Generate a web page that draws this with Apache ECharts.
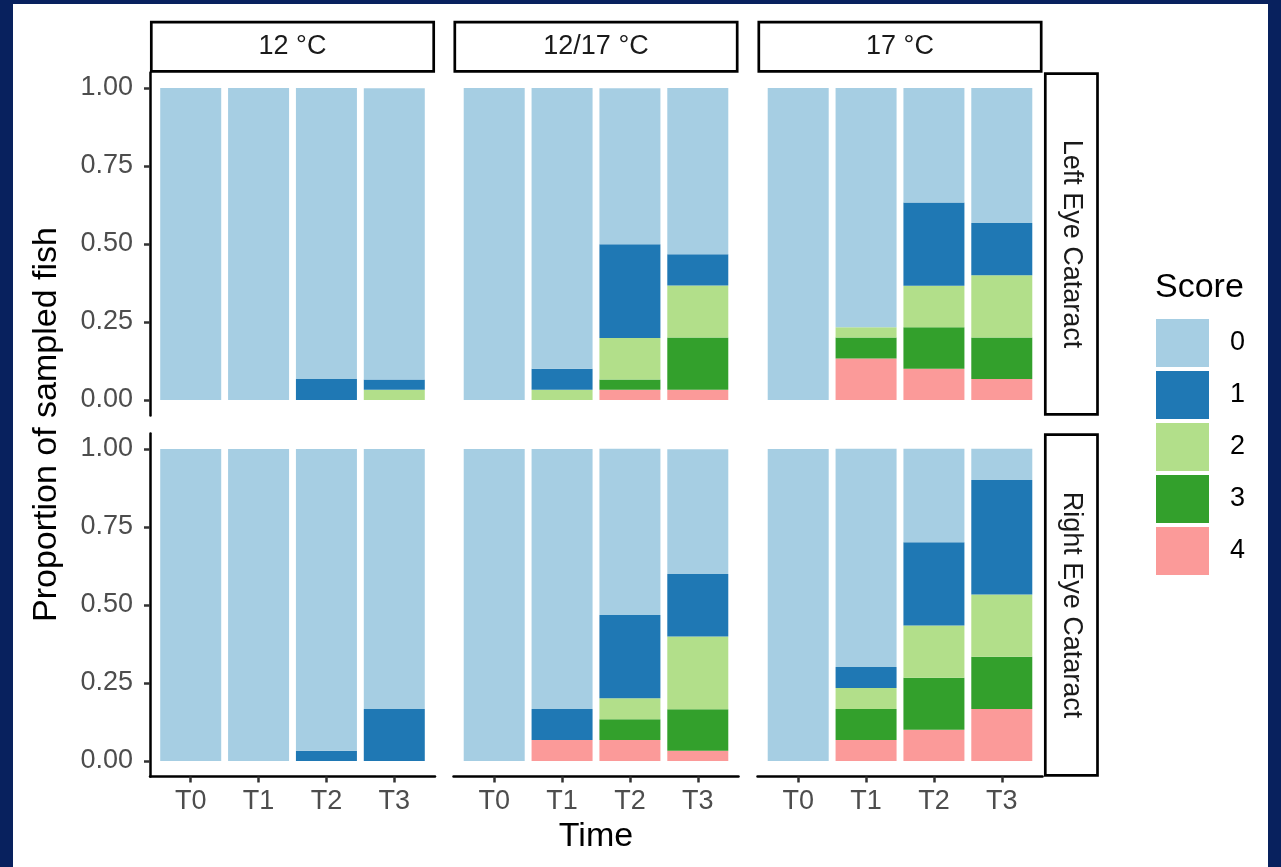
<!DOCTYPE html>
<html>
<head>
<meta charset="utf-8">
<script src="https://cdn.jsdelivr.net/npm/echarts@6/dist/echarts.min.js"></script>
<style>
  html, body {margin: 0; padding: 0; background: #08215e;}
  #paper {position: absolute; left: 13px; top: 4px; width: 1255px; height: 863px; background: #fff;}
  #chart {position: absolute; left: 0; top: 0; width: 1281px; height: 867px;}
</style>
</head>
<body>
<div id="paper"></div>
<div id="chart"></div>
<script>
const times = ['T0', 'T1', 'T2', 'T3'];
const scores = ['0', '1', '2', '3', '4'];
const temps = ['12 °C', '12/17 °C', '17 °C'];
const eyes = ['Left Eye Cataract', 'Right Eye Cataract'];
const colors = ['#a6cee3', '#1f78b4', '#b2df8a', '#33a02c', '#fb9a99'];

// proportion of fish per score (rows: score 0..4, columns: T0..T3)
const left12 = [[1, 1, 0.933, 0.933], [0, 0, 0.067, 0.033], [0, 0, 0, 0.033], [0, 0, 0, 0], [0, 0, 0, 0]];
const left1217 = [[1, 0.9, 0.5, 0.533], [0, 0.067, 0.3, 0.1], [0, 0.033, 0.133, 0.167], [0, 0, 0.033, 0.167], [0, 0, 0.033, 0.033]];
const left17 = [[1, 0.767, 0.367, 0.433], [0, 0, 0.267, 0.167], [0, 0.033, 0.133, 0.2], [0, 0.067, 0.133, 0.133], [0, 0.133, 0.1, 0.067]];
const right12 = [[1, 1, 0.967, 0.833], [0, 0, 0.033, 0.167], [0, 0, 0, 0], [0, 0, 0, 0], [0, 0, 0, 0]];
const right1217 = [[1, 0.833, 0.533, 0.4], [0, 0.1, 0.267, 0.2], [0, 0, 0.067, 0.233], [0, 0, 0.067, 0.133], [0, 0.067, 0.067, 0.033]];
const right17 = [[1, 0.7, 0.3, 0.1], [0, 0.067, 0.267, 0.367], [0, 0.067, 0.167, 0.2], [0, 0.1, 0.167, 0.167], [0, 0.067, 0.1, 0.167]];

const yTicks = [0, 0.25, 0.5, 0.75, 1];

const panels = [[left12, left1217, left17], [right12, right1217, right17]];
const font = 'Liberation Sans, Arial, sans-serif';
const colLeft = [150, 453.5, 757.5];
const rowTop = [72.4, 433.4];
const panelW = 285, panelH = 343.2;

// ggplot pads a discrete axis by 0.6 of a step on each side: use 10 slots per step
const step = 10, pad = 6;
const slots = [];
for (let k = 0; k <= pad * 2 + step * (times.length - 1); k++) slots.push('');
times.forEach((t, i) => { slots[pad + step * i] = t; });
const slotOf = i => pad + step * i;

const grids = [], xAxes = [], yAxes = [], series = [], graphic = [];

panels.forEach((row, r) => {
  row.forEach((vals, c) => {
    const g = grids.length;
    grids.push({left: colLeft[c], top: rowTop[r], width: panelW, height: panelH});
    const bottom = r === 1;
    xAxes.push({
      gridIndex: g, type: 'category', data: slots, boundaryGap: false, show: bottom,
      axisLine: {onZero: false, lineStyle: {color: '#000', width: 2.5}},
      axisTick: {interval: (i, v) => v !== '', length: 6, lineStyle: {color: '#333', width: 2.5}},
      axisLabel: {interval: 0, color: '#4d4d4d', fontSize: 27, fontFamily: font, margin: 11},
      splitLine: {show: false},
      name: bottom && c === 1 ? 'Time' : '', nameLocation: 'middle', nameGap: 43,
      nameTextStyle: {fontSize: 34, color: '#000', fontFamily: font}
    });
    yAxes.push({
      gridIndex: g, type: 'value', min: -0.05, max: 1.05, show: c === 0,
      axisLine: {show: true, onZero: false, lineStyle: {color: '#000', width: 2.5}},
      axisTick: {show: true, customValues: yTicks, length: 6, lineStyle: {color: '#333', width: 2.5}},
      axisLabel: {customValues: yTicks, formatter: v => v.toFixed(2), color: '#4d4d4d',
        fontSize: 27, fontFamily: font, margin: 17},
      splitLine: {show: false}
    });
    // stack from score 4 at the bottom up to score 0 on top
    for (let s = scores.length - 1; s >= 0; s--) {
      series.push({
        type: 'bar', name: scores[s], xAxisIndex: g, yAxisIndex: g, stack: 'p' + g,
        barWidth: 61, itemStyle: {color: colors[s]},
        data: vals[s].map((v, i) => [slotOf(i), v])
      });
    }
  });
});

// facet strips
temps.forEach((t, c) => {
  graphic.push({type: 'rect', shape: {x: colLeft[c] + 1.3, y: 22.2, width: panelW - 2.6, height: 49.2},
    style: {fill: '#fff', stroke: '#000', lineWidth: 2.7}});
  graphic.push({type: 'text', x: colLeft[c] + panelW / 2, y: 47, style: {text: t, fill: '#1a1a1a',
    font: '27px ' + font, align: 'center', verticalAlign: 'middle'}});
});
eyes.forEach((e, r) => {
  graphic.push({type: 'rect', shape: {x: 1045.3, y: rowTop[r] + 1.3, width: 52.2, height: panelH - 2.6},
    style: {fill: '#fff', stroke: '#000', lineWidth: 2.7}});
  graphic.push({type: 'text', x: 1071.5, y: rowTop[r] + panelH / 2, rotation: -Math.PI / 2,
    style: {text: e, fill: '#1a1a1a', font: '27px ' + font, align: 'center', verticalAlign: 'middle'}});
});
graphic.push({type: 'text', x: 47, y: 424.5, rotation: Math.PI / 2,
  style: {text: 'Proportion of sampled fish', fill: '#000', font: '34px ' + font, align: 'center', verticalAlign: 'middle'}});
graphic.push({type: 'text', x: 1155, y: 288,
  style: {text: 'Score', fill: '#000', font: '34px ' + font, align: 'left', verticalAlign: 'middle'}});

const chart = echarts.init(document.getElementById('chart'));
chart.setOption({
  animation: false,
  grid: grids,
  xAxis: xAxes,
  yAxis: yAxes,
  legend: {
    data: scores, orient: 'vertical', left: 1156, top: 319, icon: 'rect',
    itemWidth: 53, itemHeight: 48, itemGap: 4, selectedMode: false, padding: 0,
    textStyle: {fontSize: 27, color: '#000', fontFamily: font, padding: [0, 0, 0, 16]}
  },
  graphic: graphic,
  series: series
});
</script>
</body>
</html>
